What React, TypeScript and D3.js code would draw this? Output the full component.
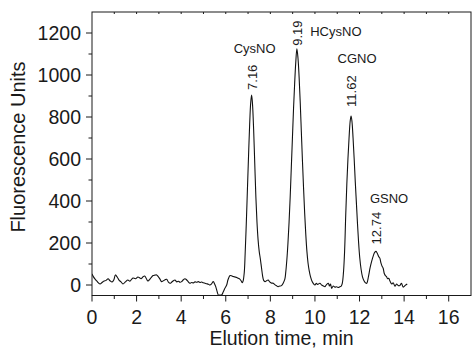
import React from "react";
import * as d3 from "d3";

// Chromatogram samples: [time (min), fluorescence units]
const times: number[] = [
  0, 0.06, 0.13, 0.22, 0.36, 0.45, 0.54, 0.63, 0.72, 0.81, 0.9, 0.98, 1.05, 1.13, 1.22, 1.3, 1.39, 1.5, 1.61, 1.7,
  1.78, 1.84, 1.95, 2.06, 2.13, 2.2, 2.28, 2.36, 2.44, 2.51, 2.6, 2.67, 2.74, 2.82, 2.9, 2.97, 3.05, 3.12, 3.2, 3.28,
  3.35, 3.42, 3.5, 3.58, 3.65, 3.72, 3.8, 3.88, 3.95, 4.02, 4.1, 4.17, 4.24, 4.32, 4.39, 4.47, 4.55, 4.62, 4.69, 4.77,
  4.84, 4.92, 4.99, 5.07, 5.14, 5.22, 5.29, 5.36, 5.44, 5.5, 5.55, 5.61, 5.67, 5.74, 5.81, 5.88, 5.95, 6.04, 6.1, 6.19,
  6.26, 6.34, 6.42, 6.49, 6.56, 6.63, 6.7, 6.74, 6.78, 6.83, 6.87, 6.92, 6.97, 7.02, 7.07, 7.12, 7.16, 7.2, 7.25, 7.3,
  7.35, 7.4, 7.45, 7.5, 7.55, 7.6, 7.65, 7.7, 7.76, 7.83, 7.9, 7.97, 8.04, 8.13, 8.2, 8.28, 8.35, 8.42, 8.5, 8.58,
  8.65, 8.69, 8.74, 8.79, 8.84, 8.89, 8.94, 8.99, 9.04, 9.09, 9.14, 9.19, 9.24, 9.29, 9.34, 9.39, 9.44, 9.49, 9.54, 9.59,
  9.64, 9.69, 9.74, 9.8, 9.88, 9.94, 10.0, 10.06, 10.12, 10.22, 10.3, 10.38, 10.45, 10.52, 10.6, 10.65, 10.7, 10.75, 10.82, 10.9,
  10.97, 11.05, 11.12, 11.18, 11.23, 11.28, 11.33, 11.38, 11.43, 11.48, 11.53, 11.58, 11.62, 11.66, 11.71, 11.76, 11.81, 11.86, 11.91, 11.96,
  12.01, 12.07, 12.13, 12.2, 12.27, 12.32, 12.4, 12.47, 12.54, 12.62, 12.68, 12.74, 12.8, 12.86, 12.91, 12.96, 13.01, 13.06, 13.11, 13.16,
  13.21, 13.26, 13.31, 13.36, 13.44, 13.51, 13.59, 13.66, 13.74, 13.81, 13.88, 13.96, 14.05, 14.14,
];
const signal: number[] = [
  53, 40, 29, 18, 5, 12, 19, 22, 30, 20, 14, 25, 48, 38, 22, 15, 5, 15, 24, 18,
  28, 33, 30, 38, 35, 30, 38, 43, 30, 19, 28, 38, 45, 47, 48, 40, 28, 16, 20, 25,
  27, 15, 8, 14, 20, 24, 15, 18, 13, 16, 25, 30, 25, 15, 8, 12, 10, 15, 13, 16,
  12, 14, 11, 8, 6, 4, 0, 5, 16, 5, -8, -30, -48, -48, -48, -35, -18, 0, 25, 45,
  44, 40, 38, 36, 32, 28, 18, 11, 20, 60, 150, 290, 450, 610, 760, 870, 905, 860, 740, 580,
  420, 300, 215, 160, 125, 85, 45, 22, 16, 20, 24, 15, 10, 8, 2, -4, -8, -5, -3, 10,
  28, 60, 120, 200, 300, 420, 560, 700, 840, 960, 1060, 1125, 1080, 990, 870, 730, 590, 460, 340, 240,
  160, 105, 70, 40, 15, 5, 0, 8, 3, 8, 0, -5, -8, 2, 8, -5, 5, -16, -5, -10,
  -8, -12, -8, -5, 10, 60, 160, 330, 480, 600, 700, 780, 805, 780, 700, 600, 490, 390, 290, 200,
  130, 75, 40, 20, 10, 8, 40, 80, 111, 140, 155, 160, 150, 135, 128, 105, 90, 80, 55, 45,
  40, 30, 32, 20, 5, 11, -6, 5, -3, -2, 8, -10, -2, 5,
];

const xTicks: number[] = [0, 2, 4, 6, 8, 10, 12, 14, 16];
const yTicks: number[] = [0, 200, 400, 600, 800, 1000, 1200];

const peakNames: string[] = ["CysNO", "HCysNO", "CGNO", "GSNO"];
const peakTimes: number[] = [7.16, 9.19, 11.62, 12.74];
const peakTimeLabels: string[] = ["7.16", "9.19", "11.62", "12.74"];
const peakHeights: number[] = [905, 1125, 805, 160];

const W = 472;
const H = 348;
const M = { left: 92, right: 1, top: 12, bottom: 52.5 };
const FONT = "'Liberation Sans', Arial, Helvetica, sans-serif";
const INK = "#1a1a1a";

export default function App() {
  const x = d3.scaleLinear().domain([0, 17]).range([M.left, W - M.right]);
  const y = d3.scaleLinear().domain([-50, 1300]).range([H - M.bottom, M.top]);
  const x0 = M.left;
  const x1 = W - M.right;
  const y0 = H - M.bottom;
  const y1 = M.top;

  const data = times.map((t, i) => [t, signal[i]] as [number, number]);
  const line = d3
    .line<[number, number]>()
    .x((d) => x(d[0]))
    .y((d) => y(d[1]))
    .curve(d3.curveCatmullRom.alpha(0.5));

  const xMinor = d3.range(1, 17, 2);
  const yMinor = d3.range(100, 1300, 200);
  const topTicks = d3.range(1, 17, 1);

  // label offsets relative to peak apex (pixels)
  const nameDx = [3, 39, 6, 13];
  const nameDy = [-42, -13, -53, -48];
  const numDy = [-5, -3, -9, -7];

  return (
    <svg
      width={W}
      height={H}
      style={{ position: "absolute", left: 0, top: 0, background: "#fff" }}
      fontFamily={FONT}
    >
      <defs>
        <clipPath id="plot">
          <rect x={x0} y={y1} width={x1 - x0} height={y0 - y1} />
        </clipPath>
      </defs>
      <rect x={0} y={0} width={W} height={H} fill="#fff" />

      <path
        d={line(data) || ""}
        fill="none"
        stroke="#111"
        strokeWidth={1.1}
        clipPath="url(#plot)"
      />

      {/* frame */}
      <rect x={x0} y={y1} width={x1 - x0} height={y0 - y1} fill="none" stroke={INK} strokeWidth={1} />

      {/* x axis ticks */}
      {xTicks.map((t) => (
        <g key={"xt" + t}>
          <line x1={x(t)} x2={x(t)} y1={y0} y2={y0 + 6} stroke={INK} />
          <text x={x(t)} y={y0 + 28} textAnchor="middle" fontSize={19.5} fill={INK}>
            {t}
          </text>
        </g>
      ))}
      {xMinor.map((t) => (
        <line key={"xm" + t} x1={x(t)} x2={x(t)} y1={y0} y2={y0 + 3.5} stroke={INK} />
      ))}
      {topTicks.map((t) => (
        <line key={"tt" + t} x1={x(t)} x2={x(t)} y1={y1} y2={y1 + 2} stroke={INK} />
      ))}

      {/* y axis ticks */}
      {yTicks.map((v) => (
        <g key={"yt" + v}>
          <line x1={x0 - 6} x2={x0} y1={y(v)} y2={y(v)} stroke={INK} />
          <text x={x0 - 11} y={y(v) + 7.3} textAnchor="end" fontSize={19.5} fill={INK}>
            {v}
          </text>
        </g>
      ))}
      {yMinor.map((v) => (
        <line key={"ym" + v} x1={x0 - 3.5} x2={x0} y1={y(v)} y2={y(v)} stroke={INK} />
      ))}

      {/* axis titles */}
      <text x={(x0 + x1) / 2} y={H - 3} textAnchor="middle" fontSize={19.5} fill={INK}>
        Elution time, min
      </text>
      <text
        transform={`translate(25, 147) rotate(-90)`}
        textAnchor="middle"
        fontSize={20}
        fill={INK}
      >
        Fluorescence Units
      </text>

      {/* peak annotations */}
      {peakNames.map((name, i) => {
        const px = x(peakTimes[i]);
        const py = y(peakHeights[i]);
        return (
          <g key={name}>
            <text
              transform={`translate(${px + 5}, ${py + numDy[i]}) rotate(-90)`}
              textAnchor="start"
              fontSize={13}
              fill={INK}
            >
              {peakTimeLabels[i]}
            </text>
            <text
              x={px + nameDx[i]}
              y={py + nameDy[i]}
              textAnchor="middle"
              fontSize={13}
              fill={INK}
            >
              {name}
            </text>
          </g>
        );
      })}
    </svg>
  );
}
